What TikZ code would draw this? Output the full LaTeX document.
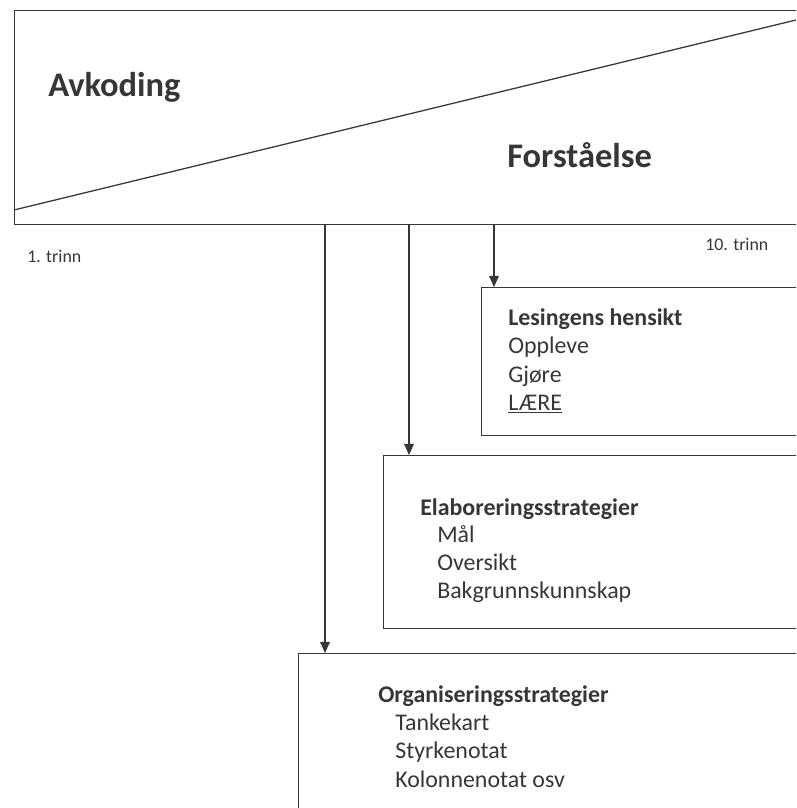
\documentclass[tikz,border=0pt]{standalone}
\usepackage{fontspec}
\setmainfont{Carlito}
\usetikzlibrary{positioning,arrows.meta}
\definecolor{ink}{HTML}{363636}

\tikzset{
  boks/.style={draw=ink, line width=0.9pt, anchor=north west, inner sep=0pt},
  tekst/.style={anchor=base west, inner sep=0pt, text=ink, font=\fontsize{17}{20}\selectfont},
  tittel/.style={tekst, font=\fontsize{17}{20}\selectfont\bfseries},
  stor/.style={anchor=base west, inner sep=0pt, text=ink, font=\fontsize{24.5}{29}\selectfont\bfseries},
  liten/.style={anchor=base west, inner sep=0pt, text=ink, font=\fontsize{12.7}{15}\selectfont},
  pil/.style={draw=ink, line width=0.8pt, -{Triangle[length=8pt,width=7pt]}}
}

\begin{document}
\begin{tikzpicture}[x=0.025cm, y=-0.025cm]
\useasboundingbox (0,0) rectangle (796,808);
\clip (0,0) rectangle (796,808);

% toppfeltet
\node[boks, minimum width=20.15cm, minimum height=5.35cm] (topp) at (14,10) {};
\coordinate (diagA) at (14,210);
\coordinate (diagB) at (796,20);
\draw[draw=ink, line width=0.9pt] (diagA) -- (diagB);

\node[stor] (avkoding) at (48,97) {Avkoding};
\node[stor] (forst) at (507,167) {Forståelse};

\node[liten] (trinn1) at (27,262) {1. trinn};
\node[liten] (trinn10) at (705,250) {10. trinn};

% boksene
\node[boks, minimum width=8.5cm, minimum height=3.7cm] (hensikt) at (481,287) {};
\node[boks, minimum width=11cm, minimum height=4.325cm] (elab) at (383,455) {};
\node[boks, minimum width=13.1cm, minimum height=4.6cm] (org) at (298,653) {};

\node[tittel] (h0) at (508,325) {Lesingens hensikt};
\node[tekst] (h1) at (508,353) {Oppleve};
\node[tekst] (h2) at (508,382) {Gjøre};
\node[tekst] (h3) at (508,410) {\underline{LÆRE}};

\node[tittel] (e0) at (420,515) {Elaboreringsstrategier};
\node[tekst] (e1) at (437,542) {Mål};
\node[tekst] (e2) at (437,570) {Oversikt};
\node[tekst] (e3) at (437,598) {Bakgrunnskunnskap};

\node[tittel] (o0) at (378,702) {Organiseringsstrategier};
\node[tekst] (o1) at (395,730) {Tankekart};
\node[tekst] (o2) at (395,758) {Styrkenotat};
\node[tekst] (o3) at (395,787) {Kolonnenotat osv};

% pilene
\coordinate (p1) at (325,224);
\coordinate (p2) at (409,224);
\coordinate (p3) at (494,224);
\draw[pil] (p1) -- (p1 |- org.north);
\draw[pil] (p2) -- (p2 |- elab.north);
\draw[pil] (p3) -- (p3 |- hensikt.north);

\end{tikzpicture}
\end{document}
